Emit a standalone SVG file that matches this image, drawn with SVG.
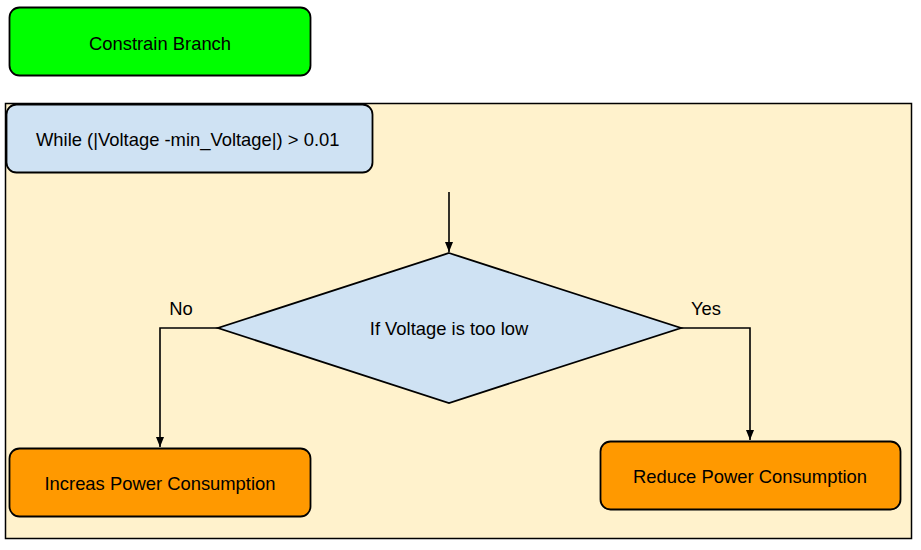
<svg xmlns="http://www.w3.org/2000/svg" width="921" height="550" viewBox="0 0 921 550">
<style>
text{font-family:"Liberation Sans",Arial,sans-serif;font-size:18.4px;fill:#000}
.c{text-anchor:middle}
.n{stroke:#000;stroke-width:1.8}
.e{fill:none;stroke:#000;stroke-width:1.6}
</style>
<defs>
<marker id="ah" viewBox="0 0 10 10" refX="10" refY="5" markerWidth="10" markerHeight="10" markerUnits="userSpaceOnUse" orient="auto">
<path d="M0,1 L10,5 L0,9 z" fill="#000"/>
</marker>
</defs>
<g id="container">
<rect x="5.5" y="103.5" width="906" height="435" fill="#fff2cc" stroke="#000" stroke-width="1.5"/>
</g>
<g id="constrain">
<rect class="n" x="9.5" y="7.5" width="301" height="68" rx="10" fill="#00ff00"/>
<text class="c" x="160" y="50">Constrain Branch</text>
</g>
<g id="while">
<rect class="n" x="6.5" y="104.5" width="366" height="68" rx="10" fill="#cfe2f3"/>
<text x="36" y="146">While (|Voltage -min_Voltage|) &gt; 0.01</text>
</g>
<g id="decision">
<polygon class="n" points="449,253 681,328 449,403 218,328" fill="#cfe2f3"/>
<text class="c" x="449" y="335">If Voltage is too low</text>
</g>
<g id="increase">
<rect class="n" x="9.5" y="448.5" width="301" height="68" rx="10" fill="#ff9900"/>
<text class="c" x="160" y="490">Increas Power Consumption</text>
</g>
<g id="reduce">
<rect class="n" x="600.5" y="441.5" width="300" height="68" rx="10" fill="#ff9900"/>
<text class="c" x="750" y="483">Reduce Power Consumption</text>
</g>
<g id="connectors">
<path class="e" d="M449,192 V252" marker-end="url(#ah)"/>
<path class="e" d="M218,328 H160 V447" marker-end="url(#ah)"/>
<path class="e" d="M681,328 H750 V440" marker-end="url(#ah)"/>
<text class="c" x="181" y="315">No</text>
<text class="c" x="706" y="315">Yes</text>
</g>
</svg>
